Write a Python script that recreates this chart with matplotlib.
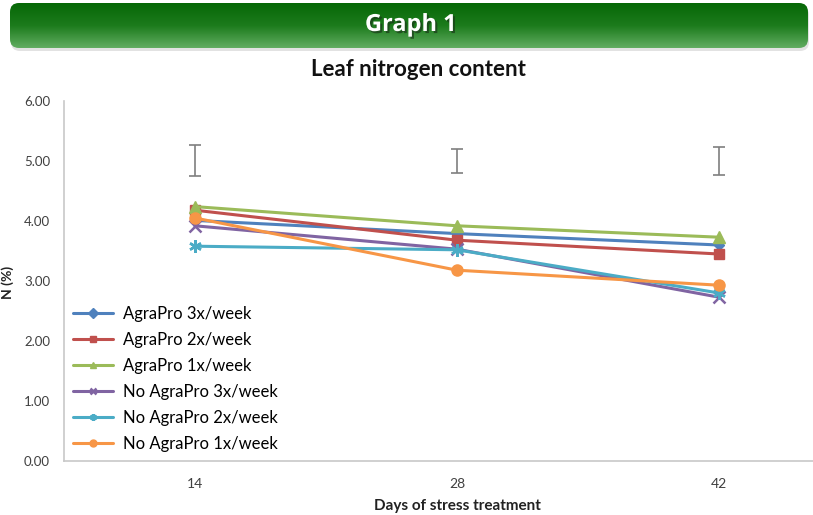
import numpy as np
import matplotlib
matplotlib.use("Agg")
import matplotlib.pyplot as plt
from matplotlib.patches import FancyBboxPatch
from matplotlib.colors import LinearSegmentedColormap
import matplotlib.patheffects as pe

plt.rcParams['font.family'] = ['Lato', 'DejaVu Sans']

days = ["14", "28", "42"]
series_names = ["AgraPro 3x/week", "AgraPro 2x/week", "AgraPro 1x/week",
                "No AgraPro 3x/week", "No AgraPro 2x/week", "No AgraPro 1x/week"]
agrapro_3x = [4.01, 3.79, 3.60]
agrapro_2x = [4.18, 3.68, 3.45]
agrapro_1x = [4.24, 3.92, 3.73]
no_agrapro_3x = [3.92, 3.53, 2.73]
no_agrapro_2x = [3.58, 3.52, 2.80]
no_agrapro_1x = [4.05, 3.18, 2.93]
err_center = [5.01, 5.00, 5.00]
err_half = [0.26, 0.20, 0.23]

values = [agrapro_3x, agrapro_2x, agrapro_1x, no_agrapro_3x, no_agrapro_2x, no_agrapro_1x]
colors = ["#4F81BD", "#C0504D", "#9BBB59", "#8064A2", "#4BACC6", "#F79646"]
markers = ["D", "s", "^", "x", (6, 2, 0), "o"]
msizes = [5, 7, 8, 8, 9, 8]

W, H = 813, 515
fig = plt.figure(figsize=(W / 100, H / 100), dpi=100)
fig.patch.set_facecolor("white")

# Banner
bx0, by0, bx1, by1 = 10, 3, 808, 48
bax = fig.add_axes([0, 0, 1, 1], zorder=0)
bax.set_xlim(0, W)
bax.set_ylim(H, 0)
bax.axis("off")
shadow = FancyBboxPatch((bx0 + 1, by0 + 3), bx1 - bx0, by1 - by0,
                        boxstyle="round,pad=0,rounding_size=9",
                        fc="#d0d0d0", ec="none", alpha=0.6, zorder=1)
bax.add_patch(shadow)
grad = np.linspace(0, 1, 256).reshape(-1, 1)
cmap = LinearSegmentedColormap.from_list("g", ["#066806", "#1c7b1c", "#62ad62"])
im = bax.imshow(grad, cmap=cmap, aspect="auto", extent=[bx0, bx1, by1, by0], zorder=2)
clip = FancyBboxPatch((bx0, by0), bx1 - bx0, by1 - by0,
                      boxstyle="round,pad=0,rounding_size=9",
                      fc="none", ec="none")
bax.add_patch(clip)
im.set_clip_path(clip)
bax.set_xlim(0, W)
bax.set_ylim(H, 0)
bax.text(411, 25, "Graph 1", color="white", fontsize=17, fontweight="bold",
         ha="center", va="center", family=["Open Sans", "DejaVu Sans"], zorder=3,
         path_effects=[pe.withSimplePatchShadow(offset=(1.5, -1.5), shadow_rgbFace="#1a3a1a", alpha=0.7)])

# Main axes
left = 64 / W
right = 850 / W
bottom = (H - 461) / H
top = (H - 101) / H
ax = fig.add_axes([left, bottom, right - left, top - bottom], zorder=1)
x = np.arange(len(days))
for name, vals, c, m, ms in zip(series_names, values, colors, markers, msizes):
    mew = 1.8 if m in ("x", (6, 2, 0)) else 1
    ax.plot(x, vals, color=c, lw=2.2, marker=m, ms=ms, mew=mew,
            mec=c, mfc=c, label=name, solid_capstyle="round")

ax.errorbar(x, err_center, yerr=err_half, fmt="none", ecolor="#7f7f7f",
            elinewidth=1.2, capsize=4, capthick=1.2)

ax.set_xlim(-0.5, 2.5)
ax.set_ylim(0, 6)
ax.set_xticks(x)
ax.set_xticklabels(days)
ax.set_yticks(np.arange(0, 7, 1))
ax.set_yticklabels([f"{v:.2f}" for v in np.arange(0, 7, 1)])
ax.tick_params(axis="both", length=0, labelsize=10, colors="#404040")
ax.tick_params(axis="y", pad=10, labelsize=9.5)
ax.tick_params(axis="x", pad=12)
for s in ["top", "right"]:
    ax.spines[s].set_visible(False)
for s in ["left", "bottom"]:
    ax.spines[s].set_color("#c8c8c8")
    ax.spines[s].set_linewidth(1.2)

ax.set_xlabel("Days of stress treatment", fontsize=11, fontweight="bold",
              color="#222222", labelpad=7)
fig.text(8 / W, 1 - 282 / H, "N (%)", rotation=90, fontsize=10, fontweight="bold",
         color="#222222", ha="center", va="center")
fig.text(418 / W, 1 - 70 / H, "Leaf nitrogen content", fontsize=16, fontweight="bold",
         color="#111111", ha="center", va="center")

leg = ax.legend(loc="lower left", bbox_to_anchor=(0.0, 0.0), frameon=True,
                fontsize=12, handlelength=2.4, handletextpad=0.6, labelspacing=0.6,
                borderaxespad=0.25, borderpad=0.3, fancybox=False, edgecolor="none",
                facecolor="white", framealpha=1)
for h in leg.legend_handles:
    h.set_markersize(5)

fig.savefig("out.png", dpi=100)
